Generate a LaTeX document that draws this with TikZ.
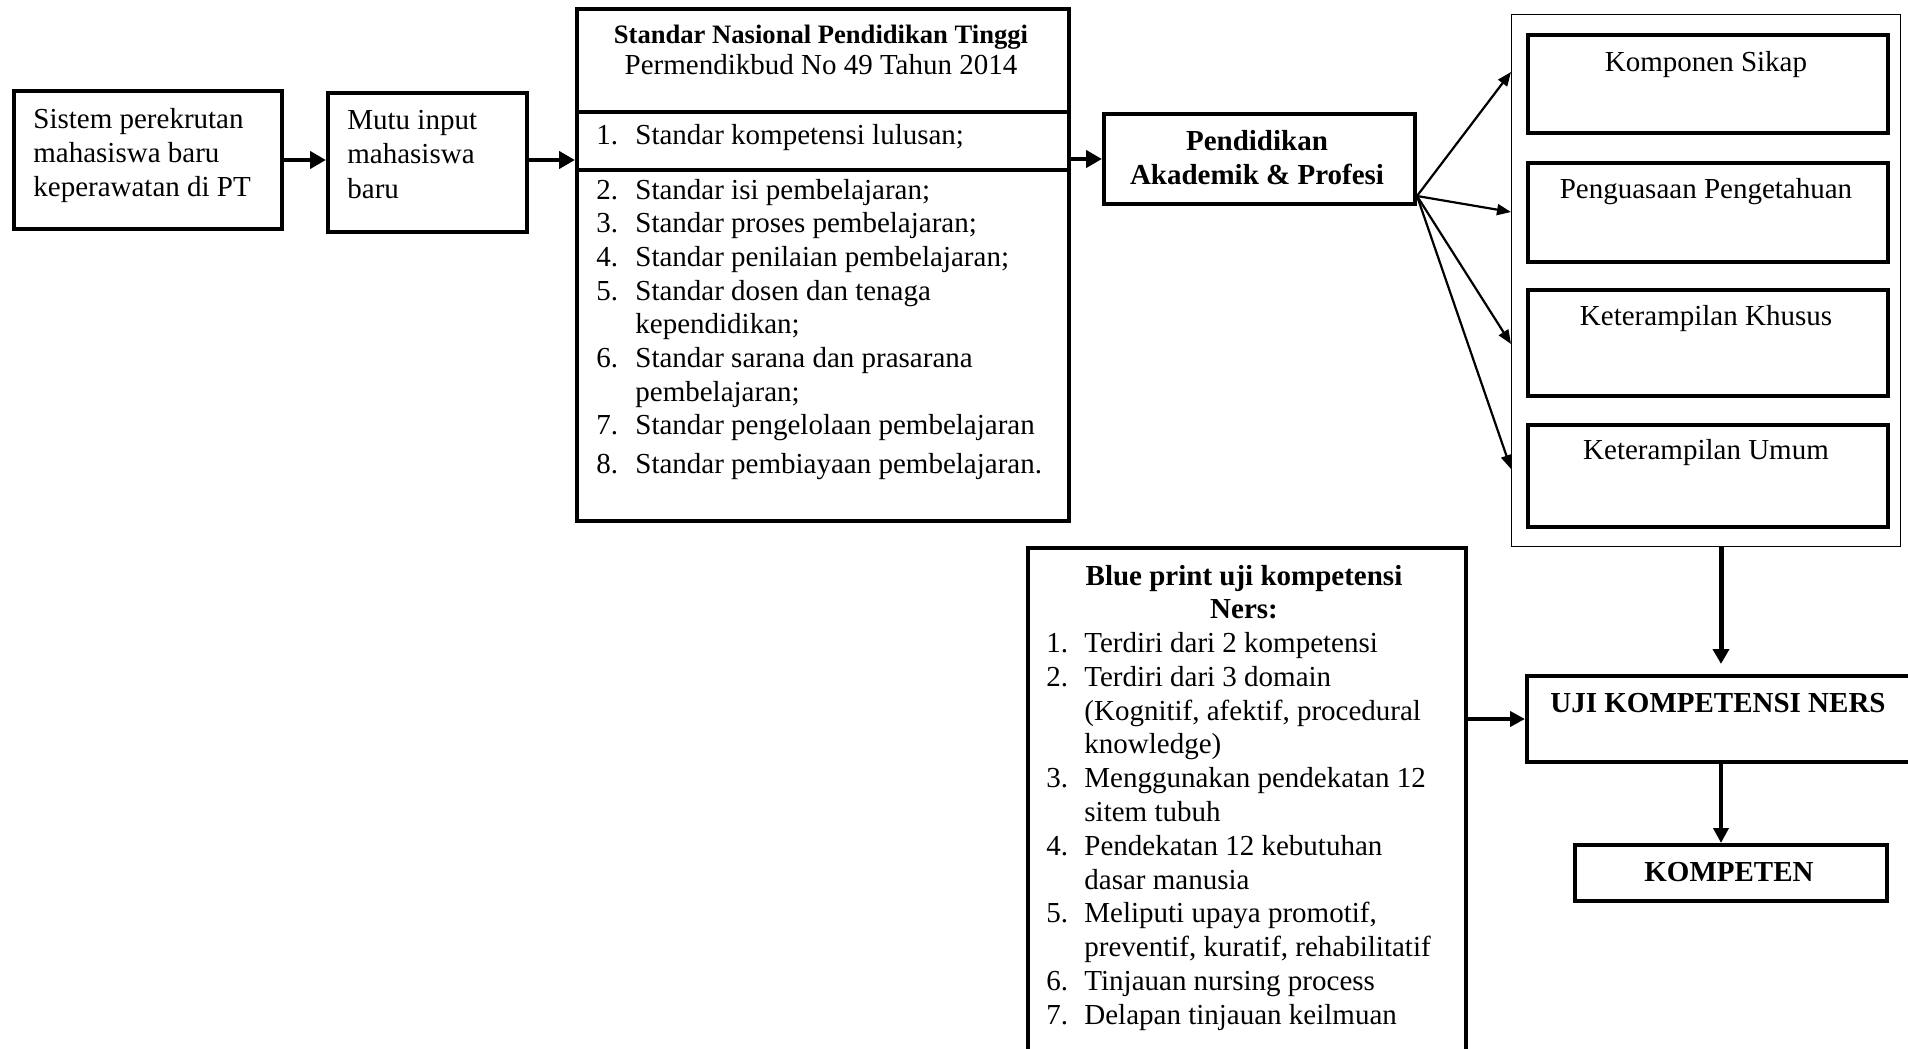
\documentclass[tikz,border=0pt]{standalone}
\usepackage{fontspec}
\setmainfont{Liberation Serif}
\usetikzlibrary{arrows.meta}
\newcommand\fsz{\fontsize{14.5}{17}\selectfont}
\begin{document}
\begin{tikzpicture}[x=0.5pt,y=-0.5pt,
  box/.style={draw, line width=2pt, inner sep=0pt, anchor=north west},
  thinbox/.style={draw, line width=0.7pt, inner sep=0pt, anchor=north west},
  sz/.style 2 args={minimum width=#1*0.5pt, minimum height=#2*0.5pt},
  txt/.style={inner sep=0pt, anchor=base west, font=\fsz},
  ctxt/.style={inner sep=0pt, anchor=base, font=\fsz},
  btxt/.style={inner sep=0pt, anchor=base, font=\fsz\bfseries},
  bigarr/.style={line width=2.4pt, -{Triangle[length=8pt,width=8.5pt]}},
  thinarr/.style={line width=1.1pt, -{Triangle[length=7pt,width=5.5pt]}},
]
\useasboundingbox (0,0) rectangle (1908,1049);
\clip (0,0) rectangle (1908,1049);

% box 1
\node[box, sz={268}{138}] (b1) at (12,89) {};
\node[txt] (b1t) at (33,128) {\begin{tabular}[t]{@{}l@{}}Sistem perekrutan\\mahasiswa baru\\keperawatan di PT\end{tabular}};

% box 2
\node[box, sz={199}{139}] (b2) at (326,91) {};
\node[txt, font=\fontsize{14.5}{17.25}\selectfont] (b2t) at (347,129) {\begin{tabular}[t]{@{}l@{}}Mutu input\\mahasiswa\\baru\end{tabular}};

% SNPT
\node[box, sz={492}{512}] (snpt) at (575,7) {};
\node[box, sz={492}{58}] (row1) at (575,110) {};
\node[ctxt, font=\fontsize{13.3}{16}\selectfont\bfseries] (snt1) at (821,43.5) {Standar Nasional Pendidikan Tinggi};
\node[ctxt] (snt2) at (821,75) {Permendikbud No 49 Tahun 2014};
\node[txt] (r1t) at (596,144) {\makebox[19.5pt][l]{1.}Standar kompetensi lulusan;};
\node[txt, font=\fontsize{14.5}{16.85}\selectfont] (snl) at (596,199) {\begin{tabular}[t]{@{}p{19.5pt}@{}l@{}}2.&Standar isi pembelajaran;\\3.&Standar proses pembelajaran;\\4.&Standar penilaian pembelajaran;\\5.&Standar dosen dan tenaga\\&kependidikan;\\6.&Standar sarana dan prasarana\\&pembelajaran;\\7.&Standar pengelolaan pembelajaran\\[2.5pt]8.&Standar pembiayaan pembelajaran.\end{tabular}};

% Pendidikan
\node[box, sz={311}{90}] (pa) at (1102,112) {};
\node[btxt] (pat) at (1257,150.5) {\begin{tabular}[t]{@{}c@{}}Pendidikan\\Akademik \& Profesi\end{tabular}};

% container and components
\node[thinbox, sz={389}{532}] (cont) at (1511,14) {};
\node[box, sz={360}{98}] (k1) at (1526,33) {};
\node[box, sz={360}{99}] (k2) at (1526,161) {};
\node[box, sz={360}{106}] (k3) at (1526,288) {};
\node[box, sz={360}{102}] (k4) at (1526,423) {};
\node[ctxt] (k1t) at (1706,71) {Komponen Sikap};
\node[ctxt] (k2t) at (1706,198) {Penguasaan Pengetahuan};
\node[ctxt] (k3t) at (1706,325) {Keterampilan Khusus};
\node[ctxt] (k4t) at (1706,459) {Keterampilan Umum};

% UJI, KOMPETEN
\node[box, sz={388}{86}] (uji) at (1525,674) {};
\node[btxt] (ujit) at (1718,712) {UJI KOMPETENSI NERS};
\node[box, sz={312}{56}] (kom) at (1573,843) {};
\node[btxt] (komt) at (1729,881) {KOMPETEN};

% Blue print
\node[box, sz={438}{514}] (bp) at (1026,546) {};
\node[btxt, font=\fontsize{14.5}{16.5}\selectfont\bfseries] (bpt) at (1244,585.5) {\begin{tabular}[t]{@{}c@{}}Blue print uji kompetensi\\Ners:\end{tabular}};
\node[txt, font=\fontsize{14.5}{16.9}\selectfont] (bpl) at (1046,652.5) {\begin{tabular}[t]{@{}p{19pt}@{}l@{}}1.&Terdiri dari 2 kompetensi\\2.&Terdiri dari 3 domain\\&(Kognitif, afektif, procedural\\&knowledge)\\3.&Menggunakan pendekatan 12\\&sitem tubuh\\4.&Pendekatan 12 kebutuhan\\&dasar manusia\\5.&Meliputi upaya promotif,\\&preventif, kuratif, rehabilitatif\\6.&Tinjauan nursing process\\7.&Delapan tinjauan keilmuan\end{tabular}};

% connectors
\draw[bigarr] (b1.east) -- (b1.east -| b2.west);
\draw[bigarr] (b1.east -| b2.east) -- (b1.east -| snpt.west);
\draw[bigarr] (pa.west -| snpt.east) -- (pa.west);

\coordinate (pas) at ([yshift=5pt]pa.south east);
\coordinate (t1) at (1511,72);
\coordinate (t2) at (1511,212);
\coordinate (t3) at (1511,344);
\coordinate (t4) at (1511,469);
\draw[thinarr] (pas) -- (t1);
\draw[thinarr] (pas) -- (t2);
\draw[thinarr] (pas) -- (t3);
\draw[thinarr] (pas) -- (t4);

\draw[line width=2.5pt, -{Triangle[length=7.5pt,width=8pt]}] (uji.north |- cont.south) -- ([yshift=5pt]uji.north);
\draw[line width=2.2pt, -{Triangle[length=7.5pt,width=7.5pt]}] (uji.west -| bp.east) -- (uji.west);
\draw[line width=2.2pt, -{Triangle[length=7.5pt,width=7.5pt]}] (uji.south) -- (uji.south |- kom.north);
\end{tikzpicture}
\end{document}
